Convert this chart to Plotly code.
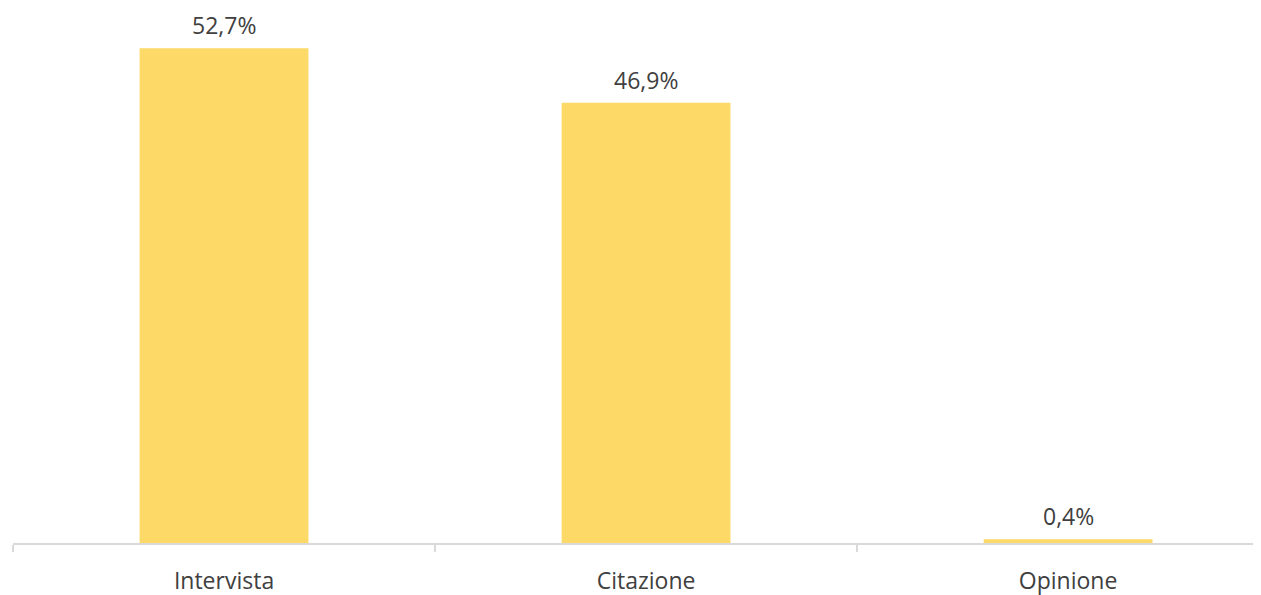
import plotly.graph_objects as go

categories = ["Intervista", "Citazione", "Opinione"]
values = [52.7, 46.9, 0.4]
labels = ["52,7%", "46,9%", "0,4%"]

BAR_COLOR = "#FDD967"
TEXT_COLOR = "#404040"
FONT = "Open Sans"

fig = go.Figure()
fig.add_trace(
    go.Bar(
        x=categories,
        y=values,
        width=0.4,
        marker=dict(color=BAR_COLOR, line=dict(width=0)),
        cliponaxis=False,
        hoverinfo="skip",
    )
)

# value labels sit a little above each bar
for cat, val, lab in zip(categories, values, labels):
    fig.add_annotation(
        x=cat,
        y=val,
        text=lab,
        showarrow=False,
        yanchor="bottom",
        yshift=5,
        font=dict(family=FONT, size=23, color=TEXT_COLOR),
    )

# page body adds an 8px offset, so the figure is 8px smaller than the window
fig.update_layout(
    width=1253,
    height=587,
    margin=dict(l=5, r=0, t=0, b=52),
    paper_bgcolor="white",
    plot_bgcolor="white",
    showlegend=False,
    font=dict(family=FONT, color=TEXT_COLOR),
    xaxis=dict(
        type="category",
        range=[-0.5, 2.457],
        showline=True,
        linecolor="#D9D9D9",
        linewidth=1.5,
        ticks="outside",
        tickson="boundaries",
        ticklen=7,
        tickcolor="#D9D9D9",
        tickwidth=1.5,
        tickfont=dict(family=FONT, size=23, color=TEXT_COLOR),
        ticklabelstandoff=17,
        showgrid=False,
        zeroline=False,
    ),
    yaxis=dict(
        range=[0, 56.98],
        visible=False,
        showgrid=False,
        zeroline=False,
    ),
)

fig.write_html("out.html")
